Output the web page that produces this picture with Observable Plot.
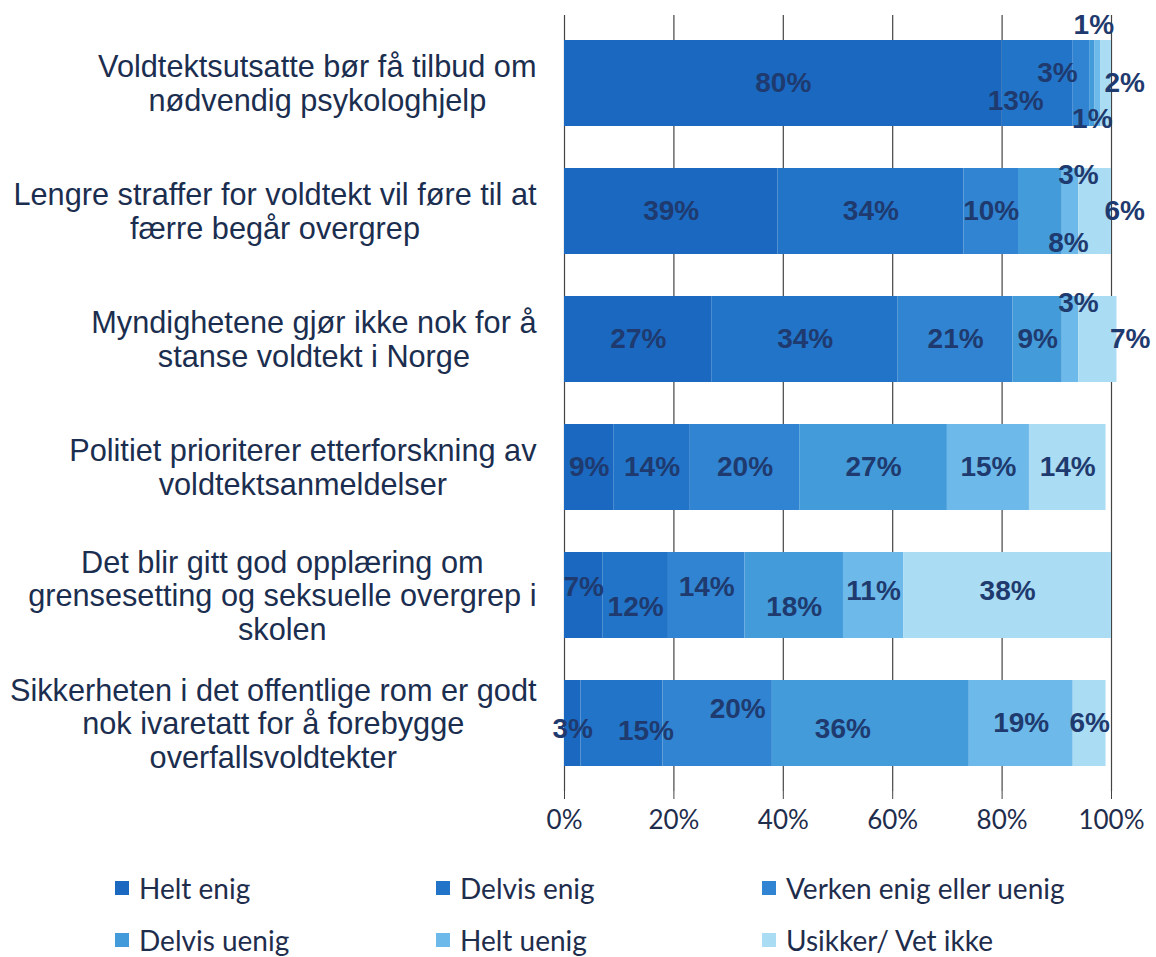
<!DOCTYPE html>
<html>
<head>
<meta charset="utf-8">
<script src="https://cdn.jsdelivr.net/npm/d3@7"></script>
<script src="https://cdn.jsdelivr.net/npm/@observablehq/plot@0.6"></script>
<style>
  body { margin: 0; background: #fff; }
  #chart svg { display: block; }
  #legend {
    display: grid;
    grid-template-columns: 321px 326px auto;
    grid-auto-rows: 52px;
    padding-left: 115px;
    padding-top: 12px;
    font-family: Lato, "Open Sans", sans-serif;
    font-size: 28px;
    color: #1f2d4d;
  }
  #legend .item { display: flex; align-items: center; }
  #legend .sw { width: 14px; height: 14px; margin-right: 10px; flex: none; }
</style>
</head>
<body>
<div id="chart"></div>
<div id="legend"></div>
<script>
const statements = [
  "Voldtektsutsatte bør få tilbud om\nnødvendig psykologhjelp",
  "Lengre straffer for voldtekt vil føre til at\nfærre begår overgrep",
  "Myndighetene gjør ikke nok for å\nstanse voldtekt i Norge",
  "Politiet prioriterer etterforskning av\nvoldtektsanmeldelser",
  "Det blir gitt god opplæring om\ngrensesetting og seksuelle overgrep i\nskolen",
  "Sikkerheten i det offentlige rom er godt\nnok ivaretatt for å forebygge\noverfallsvoldtekter"
];
const categories = ["Helt enig", "Delvis enig", "Verken enig eller uenig", "Delvis uenig", "Helt uenig", "Usikker/ Vet ikke"];
const heltEnig    = [80, 39, 27,  9,  7,  3];
const delvisEnig  = [13, 34, 34, 14, 12, 15];
const verken      = [ 3, 10, 21, 20, 14, 20];
const delvisUenig = [ 1,  8,  9, 27, 18, 36];
const heltUenig   = [ 1,  3,  3, 15, 11, 19];
const usikker     = [ 2,  6,  7, 14, 38,  6];
const xTicks = [0, 20, 40, 60, 80, 100];
const colors = ["#1a68c0", "#2274c8", "#3184d1", "#439bda", "#6dbaea", "#aadcf4"];

const series = [heltEnig, delvisEnig, verken, delvisUenig, heltUenig, usikker];
const rows = statements.flatMap((s, i) =>
  categories.map((c, j) => ({statement: s, category: c, value: series[j][i], si: i, ci: j}))
);
const totals = statements.map((s, i) => ({statement: s, si: i, total: d3.sum(series, a => a[i]), value: usikker[i]}));

const labelFont = {fontFamily: "Liberation Sans, Arial, sans-serif", fontSize: 28, fontWeight: "bold", fill: "#1f3a6e"};

// stacked label helper: stack first, then filter
function stackedLabel(test, opts = {}) {
  return Plot.text(rows, Plot.filter(test, Plot.stackX({
    x: "value", y: "statement", z: "category", text: d => d.value + "%", ...labelFont, ...opts
  })));
}

const special = d =>
  (d.si <= 2 && (d.ci === 5 || d.ci === 4)) ||
  (d.si <= 1 && d.ci === 3) ||
  (d.si === 0 && (d.ci === 1 || d.ci === 2)) ||
  d.si === 4 || d.si === 5;

// y-axis labels: centred blocks whose longest line ends at x=535
const yFontSize = 30.7;
const ctx = document.createElement("canvas").getContext("2d");
ctx.font = `${yFontSize}px 'Liberation Sans'`;
const plotLeft = 564;
const yLabelMarks = statements.map(s => {
  const w = d3.max(s.split("\n"), line => ctx.measureText(line).width);
  return Plot.text([s], {
    y: d => d, frameAnchor: "left", text: d => d, textAnchor: "middle",
    dx: -(plotLeft - 536) - w / 2, lineHeight: 1.1,
    fontFamily: "Liberation Sans, Arial, sans-serif", fontSize: yFontSize, fill: "#1b2e4f"
  });
});

const chart = Plot.plot({
  width: 1156, height: 850,
  marginLeft: plotLeft, marginRight: 45, marginTop: 15, marginBottom: 59,
  style: {fontFamily: "Lato, sans-serif", fontSize: "26px", color: "#1f2d4d", background: "#fff"},
  x: {domain: [0, 100], axis: null},
  y: {domain: statements, paddingInner: 0.33, paddingOuter: 0.18, axis: null},
  color: {domain: categories, range: colors},
  marks: [
    Plot.ruleX(xTicks, {stroke: "#444", strokeWidth: 1.2}),
    Plot.barX(rows, Plot.stackX({x: "value", y: "statement", fill: "category"})),
    stackedLabel(d => !special(d)),
    // bar 1 inner small
    stackedLabel(d => d.si === 0 && d.ci === 1, {dx: -22, dy: 18}),
    stackedLabel(d => d.si === 0 && d.ci === 2, {dx: -24, dy: -10}),
    // above / below
    stackedLabel(d => d.si === 0 && d.ci === 4, {dy: -58, dx: -4}),
    stackedLabel(d => (d.si === 1 || d.si === 2) && d.ci === 4, {dy: -36, dx: 8}),
    stackedLabel(d => d.si === 0 && d.ci === 3, {dy: 36}),
    stackedLabel(d => d.si === 1 && d.ci === 3, {dy: 32, dx: 28}),
    // zigzag bars
    stackedLabel(d => d.si === 4 && (d.ci === 0 || d.ci === 2), {dy: -8}),
    stackedLabel(d => d.si === 4 && (d.ci === 1 || d.ci === 3), {dy: 12}),
    stackedLabel(d => d.si === 4 && d.ci >= 4, {dy: -4}),
    stackedLabel(d => d.si === 5 && d.ci === 0, {dy: 6}),
    stackedLabel(d => d.si === 5 && d.ci === 1, {dy: 8, dx: 24}),
    stackedLabel(d => d.si === 5 && d.ci === 2, {dy: -14, dx: 20}),
    stackedLabel(d => d.si === 5 && d.ci === 3, {dy: 6, dx: -28}),
    stackedLabel(d => d.si === 5 && d.ci >= 4, {dy: 0}),
    // right of bar: Usikker for first three
    Plot.text(totals.filter(d => d.si <= 2), {
      x: "total", y: "statement", text: d => d.value + "%", textAnchor: "start", dx: -7, ...labelFont
    }),
    Plot.axisX(xTicks, {tickFormat: d => d + "%", tickSize: 8, tickPadding: 11, stroke: "#444", fill: "#1f2d4d", fontSize: 26}),
    ...yLabelMarks
  ]
});
document.getElementById("chart").append(chart);

// legend: row-wise order in three columns
const legend = d3.select("#legend");
categories.forEach((c, i) => {
  const item = legend.append("div").attr("class", "item");
  item.append("span").attr("class", "sw").style("background", colors[i]);
  item.append("span").text(c);
});
</script>
</body>
</html>
